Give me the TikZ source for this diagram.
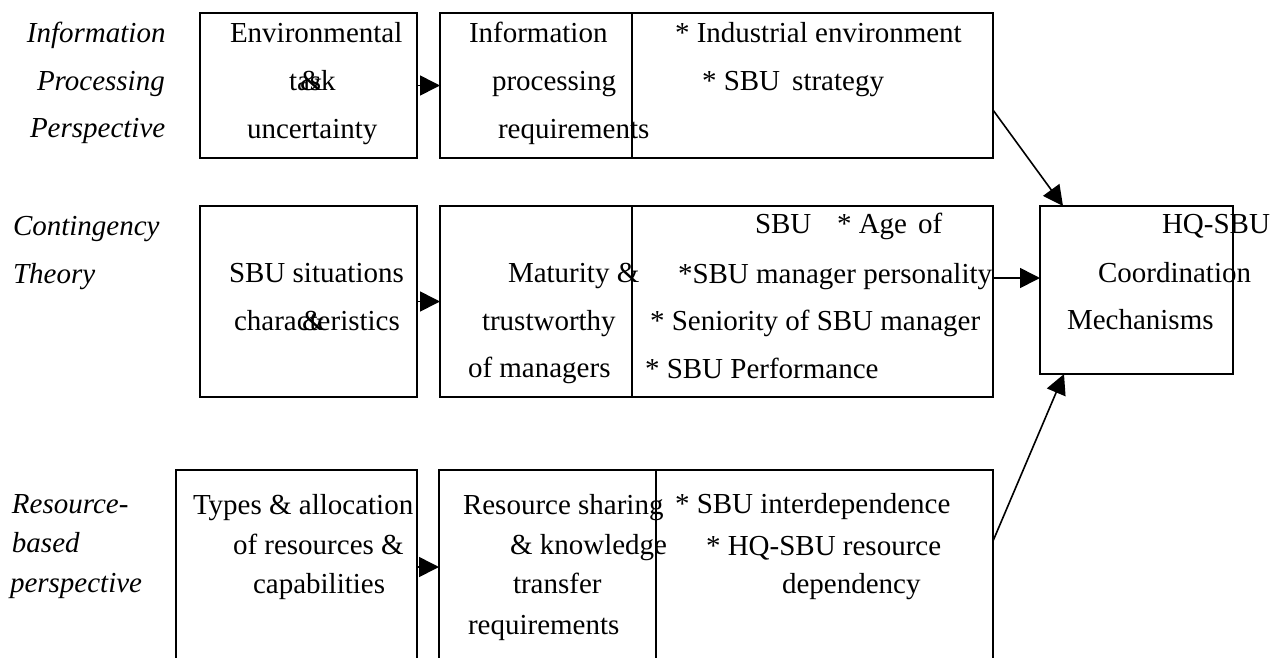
\documentclass[tikz,border=0pt]{standalone}
\usepackage{fontspec}
\setmainfont{Liberation Serif}
\usetikzlibrary{arrows.meta,calc}
\begin{document}
\begin{tikzpicture}[x=1pt,y=-1pt,
  every node/.style={inner sep=0pt,outer sep=0pt},
  txt/.style={anchor=base west,font=\fontsize{29}{35}\selectfont},
  txtr/.style={anchor=base east,font=\fontsize{29}{35}\selectfont},
  lbl/.style={anchor=base west,font=\fontsize{29}{35}\selectfont\itshape},
  box/.style={draw,line width=1.6pt,anchor=north west},
  arr/.style={line width=1.6pt,-{Triangle[length=20pt,width=20pt]}}]
\useasboundingbox (0,0) rectangle (1285,657);
\clip (0,0) rectangle (1285,657);

% perspective labels
\node[lbl] (l1a) at (27,42) {Information};
\node[lbl] (l1b) at (37,90) {Processing};
\node[lbl] (l1c) at (30,137) {Perspective};
\node[lbl] (l2a) at (13,235) {Contingency};
\node[lbl] (l2b) at (13,283) {Theory};
\node[lbl] (l3a) at (12,513) {Resource-};
\node[lbl] (l3b) at (12,552) {based};
\node[lbl] (l3c) at (10,592) {perspective};

% boxes
\node[box,minimum width=217,minimum height=145] (envbox) at (200,13) {};
\node[box,minimum width=553,minimum height=145] (infobox) at (440,13) {};
\node[box,minimum width=217,minimum height=191] (sbubox) at (200,206) {};
\node[box,minimum width=553,minimum height=191] (matbox) at (440,206) {};
\node[box,minimum width=241,minimum height=194] (resbox) at (176,470) {};
\node[box,minimum width=554,minimum height=194] (sharebox) at (439,470) {};
\node[box,minimum width=193,minimum height=168] (hqbox) at (1040,206) {};

% inner dividers
\draw[line width=1.6pt] (632,13) -- (632,158);
\draw[line width=1.6pt] (632,206) -- (632,397);
\draw[line width=1.6pt] (656,470) -- (656,664);

% top row texts
\node[txt] (e1) at (230,42) {Environmental};
\node[txt] (e2) at (289,90) {task};
\node[txt] (e2amp) at (300,90) {\&};
\node[txt] (e3) at (247,138) {uncertainty};
\node[txt] (i1) at (469,42) {Information};
\node[txt] (i2) at (492,90) {processing};
\node[txt] (i3) at (498,138) {requirements};
\node[txt] (i4) at (675,42) {* Industrial environment};
\node[txt] (i5) at (702,90) {* SBU\ \,strategy};

% middle row texts
\node[txt] (s1) at (229,282) {SBU situations};
\node[txt] (s2) at (234,330) {characteristics};
\node[txt] (s2amp) at (302,330) {\&};
\node[txt] (m1) at (508,282) {Maturity \&};
\node[txt] (m2) at (482,330) {trustworthy};
\node[txt] (m3) at (468,377) {of managers};
\node[txt] (m4) at (755,233) {SBU};
\node[txt] (m5) at (837,233) {* Age};
\node[txt] (m6) at (918,233) {of};
\node[txt] (m7) at (678,283) {*SBU manager personality};
\node[txt] (m8) at (650,330) {* Seniority of SBU manager};
\node[txt] (m9) at (645,378) {* SBU Performance};

% bottom row texts
\node[txt] (r1) at (193,514) {Types \& allocation};
\node[txt] (r2) at (233,554) {of resources \&};
\node[txt] (r3) at (253,593) {capabilities};
\node[txt] (k1) at (463,514) {Resource sharing};
\node[txt] (k2) at (510,554) {\& knowledge};
\node[txt] (k3) at (513,593) {transfer};
\node[txt] (k4) at (468,634) {requirements};
\node[txt] (k5) at (675,513) {* SBU interdependence};
\node[txt] (k6) at (706,555) {* HQ-SBU resource};
\node[txt] (k7) at (782,593) {dependency};

% outcome box texts
\node[txtr] (h1) at (1270,233) {HQ-SBU};
\node[txt] (h2) at (1098,282) {Coordination};
\node[txt] (h3) at (1067,329) {Mechanisms};

% connectors
\draw[arr] (envbox.east) -- (infobox.west);
\draw[arr] (sbubox.east) -- (matbox.west);
\draw[arr] (resbox.east) -- (sharebox.west);
\draw[arr] (matbox.east |- 0,278) -- (hqbox.west |- 0,278);
\draw[arr] (infobox.east |- 0,110) -- ($(hqbox.north west)+(23,0)$);
\draw[arr] (sharebox.east |- 0,541) -- ($(hqbox.south west)+(24,0)$);
\end{tikzpicture}
\end{document}
